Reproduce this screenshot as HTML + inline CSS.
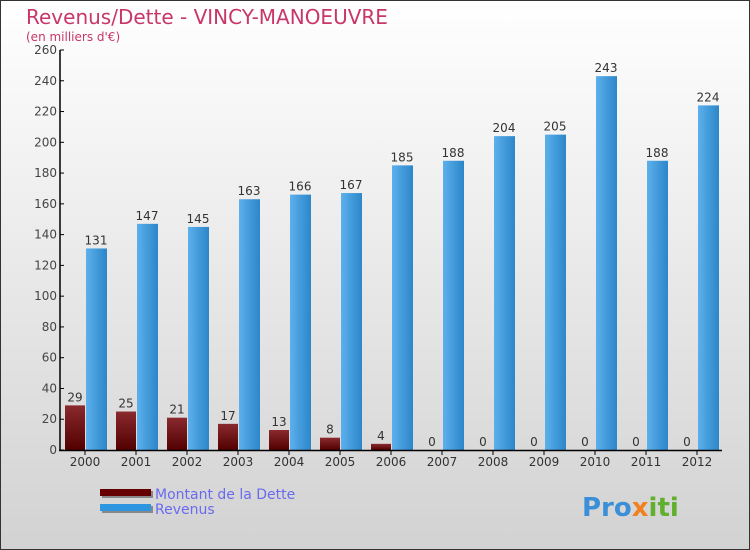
<!DOCTYPE html>
<html><head><meta charset="utf-8">
<style>
body{margin:0;}
#c{width:750px;height:550px;position:relative;overflow:hidden;font-family:"DejaVu Sans","Liberation Sans",sans-serif;}
</style></head>
<body>
<div id="c">
<svg id="svg" width="750" height="550" xmlns="http://www.w3.org/2000/svg">
<defs>
<linearGradient id="bg" x1="0" y1="0" x2="0" y2="1"><stop offset="0" stop-color="#ffffff"/><stop offset="1" stop-color="#d2d2d2"/></linearGradient>
<linearGradient id="gd" x1="0" y1="0" x2="0" y2="1"><stop offset="0" stop-color="#8a2a2e"/><stop offset="1" stop-color="#520000"/></linearGradient>
<linearGradient id="gr" x1="0" y1="0" x2="1" y2="0"><stop offset="0" stop-color="#5cb0ec"/><stop offset="1" stop-color="#2c86c8"/></linearGradient>
</defs>
<rect x="0.5" y="0.5" width="749" height="549" fill="url(#bg)" stroke="#333"/>
<text x="26" y="24" font-size="20" fill="#c8366a">Revenus/Dette - VINCY-MANOEUVRE</text>
<text x="26" y="41" font-size="12" fill="#c8366a">(en milliers d'€)</text>
<g id="plot"></g>
<rect x="102" y="491" width="51" height="7" fill="#888"/>
<rect x="100" y="489" width="51" height="7" fill="#660000"/>
<text x="155" y="499" font-size="14" fill="#6a6af0">Montant de la Dette</text>
<rect x="102" y="506" width="51" height="7" fill="#888"/>
<rect x="100" y="504" width="51" height="7" fill="#2e96e0"/>
<text x="155" y="514" font-size="14" fill="#6a6af0">Revenus</text>
<text x="582" y="516" font-size="26" font-weight="bold" fill="#3a8fd8">Pro<tspan fill="#f08020">x</tspan><tspan fill="#60b030">iti</tspan></text>
</svg>
</div>
<script>
const years=["2000","2001","2002","2003","2004","2005","2006","2007","2008","2009","2010","2011","2012"];
const debt=[29,25,21,17,13,8,4,0,0,0,0,0,0];
const revenue=[131,147,145,163,166,167,185,188,204,205,243,188,224];
const yTicks=[0,20,40,60,80,100,120,140,160,180,200,220,240,260];
const NS="http://www.w3.org/2000/svg";
const g=document.getElementById('plot');
const y0=450,yTop=50,yMax=260,x0=85,step=51;
function ys(v){return y0-(v/yMax)*(y0-yTop);}
function xs(i){return x0+i*step;}
function mk(t,a){const e=document.createElementNS(NS,t);for(const k in a)e.setAttribute(k,a[k]);g.appendChild(e);return e;}
yTicks.forEach(v=>{
 const l=mk('line',{x1:60,x2:64,y1:ys(v),y2:ys(v),stroke:'#000'});
 
 
 const t=mk('text',{x:57,y:ys(v)+4,'font-size':12,'text-anchor':'end',fill:'#444'});
 t.textContent=v;
 
 
});
years.forEach((yr,i)=>{
 const cx=xs(i);
 const dh=y0-ys(debt[i]);
 const b1=mk('rect',{x:cx-20,y:ys(debt[i]),width:20,height:dh,fill:'url(#gd)'});
 
 
 const t1=mk('text',{x:cx-10,y:ys(debt[i])-4,'font-size':12,'text-anchor':'middle',fill:'#333'});
 t1.textContent=debt[i];
 
 
 const b2=mk('rect',{x:cx+1,y:ys(revenue[i]),width:21,height:y0-ys(revenue[i]),fill:'url(#gr)'});
 
 
 const t2=mk('text',{x:cx+11,y:ys(revenue[i])-4,'font-size':12,'text-anchor':'middle',fill:'#333'});
 t2.textContent=revenue[i];
 
 
 const tk=mk('line',{x1:cx,x2:cx,y1:450,y2:455,stroke:'#000'});
 
 
 const xl=mk('text',{x:cx,y:466,'font-size':12,'text-anchor':'middle',fill:'#333'});
 xl.textContent=yr;
 
 
});
const ya=mk('line',{x1:60,x2:60,y1:50,y2:451,stroke:'#000','stroke-width':1.5});


const xa=mk('line',{x1:59,x2:722,y1:450.5,y2:450.5,stroke:'#000','stroke-width':1.5});


</script>
</body></html>
